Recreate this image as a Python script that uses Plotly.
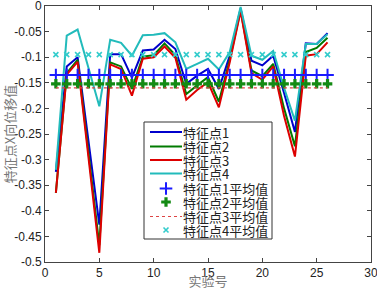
import plotly.graph_objects as go

x = list(range(1, 27))
p1 = [-0.324, -0.118, -0.100, -0.26, -0.427, -0.094, -0.094, -0.140, -0.087, -0.085, -0.066, -0.084, -0.152,
      -0.136, -0.123, -0.162, -0.097, -0.005, -0.107, -0.116, -0.097, -0.17, -0.246, -0.073, -0.074, -0.053]
p2 = [-0.365, -0.131, -0.105, -0.28, -0.467, -0.110, -0.118, -0.162, -0.099, -0.096, -0.073, -0.096, -0.172,
      -0.155, -0.139, -0.187, -0.105, -0.008, -0.126, -0.137, -0.113, -0.20, -0.274, -0.090, -0.082, -0.062]
p3 = [-0.365, -0.134, -0.109, -0.29, -0.482, -0.114, -0.123, -0.175, -0.103, -0.100, -0.079, -0.101, -0.183,
      -0.164, -0.149, -0.198, -0.110, -0.010, -0.131, -0.144, -0.118, -0.215, -0.294, -0.097, -0.094, -0.071]
p4 = [-0.320, -0.058, -0.046, -0.12, -0.196, -0.066, -0.072, -0.097, -0.057, -0.056, -0.053, -0.071, -0.123,
      -0.113, -0.103, -0.124, -0.090, -0.002, -0.097, -0.105, -0.088, -0.16, -0.224, -0.074, -0.074, -0.055]
mean1, mean2, mean3, mean4 = -0.135, -0.152, -0.160, -0.095
names = ["特征点1", "特征点2", "特征点3", "特征点4"]
mean_names = ["特征点1平均值", "特征点2平均值", "特征点3平均值", "特征点4平均值"]
xticks = [0, 5, 10, 15, 20, 25, 30]
yticks = [0, -0.05, -0.1, -0.15, -0.2, -0.25, -0.3, -0.35, -0.4, -0.45, -0.5]
ytick_text = ["0", "-0.05", "-0.1", "-0.15", "-0.2", "-0.25", "-0.3", "-0.35", "-0.4", "-0.45", "-0.5"]

CJK = "Noto Sans CJK SC, sans-serif"
cols = ["#0000cc", "#007a00", "#dd0000", "#22bbbb"]
m1 = dict(symbol="cross-thin", size=9, line=dict(color="#1a1aff", width=2))
m2 = dict(symbol="cross", size=8, color="#138a13", line=dict(width=0))
l3 = dict(color="#dd4444", width=1.2, dash="dot")
m4 = dict(symbol="x-thin", size=5, line=dict(color="#33cccc", width=1.6))

fig = go.Figure()
for ys, nm, c in zip([p1, p2, p3, p4], names, cols):
    fig.add_trace(go.Scatter(x=x, y=ys, mode="lines", name=nm, line=dict(color=c, width=2), showlegend=False))
fig.add_trace(go.Scatter(x=x, y=[mean1] * len(x), mode="markers", name=mean_names[0], marker=m1, showlegend=False))
fig.add_trace(go.Scatter(x=x, y=[mean2] * len(x), mode="markers", name=mean_names[1], marker=m2, showlegend=False))
fig.add_trace(go.Scatter(x=x, y=[mean3] * len(x), mode="lines", name=mean_names[2], line=l3, showlegend=False))
fig.add_trace(go.Scatter(x=x, y=[mean4] * len(x), mode="markers", name=mean_names[3], marker=m4, showlegend=False))

# legend on an overlay axis measured in plot pixels (x: 0..326 from left, y: 0..256 from bottom)
bx0, bx1, by0, by1 = 99, 227, 23, 140
fig.add_trace(go.Scatter(x=[bx0, bx1, bx1, bx0, bx0], y=[by0, by0, by1, by1, by0], mode="lines",
                         fill="toself", fillcolor="white", line=dict(color="#333", width=1),
                         xaxis="x2", yaxis="y2", showlegend=False, hoverinfo="skip"))
row_y = [130, 115.5, 102, 88.5, 73.5, 60, 45.5, 32]
labels = names + mean_names
for i, (ry, lab) in enumerate(zip(row_y, labels)):
    if i < 4:
        fig.add_trace(go.Scatter(x=[105, 137], y=[ry, ry], mode="lines", line=dict(color=cols[i], width=2),
                                 xaxis="x2", yaxis="y2", showlegend=False, hoverinfo="skip"))
    elif i == 6:
        fig.add_trace(go.Scatter(x=[105, 137], y=[ry, ry], mode="lines", line=l3,
                                 xaxis="x2", yaxis="y2", showlegend=False, hoverinfo="skip"))
    else:
        mk = {4: m1, 5: m2, 7: m4}[i]
        fig.add_trace(go.Scatter(x=[121], y=[ry], mode="markers", marker=mk,
                                 xaxis="x2", yaxis="y2", showlegend=False, hoverinfo="skip"))
    fig.add_annotation(x=137, y=ry, xref="x2", yref="y2", text=lab, showarrow=False, xanchor="left",
                       yanchor="middle", borderpad=0, font=dict(family=CJK, size=13, color="#222"))

fig.update_layout(
    width=377, height=290,
    margin=dict(l=45, r=6, t=6, b=28),
    paper_bgcolor="white", plot_bgcolor="white",
    font=dict(family=CJK, size=12, color="#222"),
    showlegend=False,
    xaxis=dict(range=[0, 30], tickvals=xticks, ticks="inside", ticklen=4, showgrid=False, zeroline=False,
               showline=True, linecolor="#444", mirror="ticks", tickcolor="#444", ticklabeloverflow="allow",
               automargin=False,
               title=dict(text="实验号", standoff=3, font=dict(size=13, color="#777")),
               tickfont=dict(family="Liberation Sans, sans-serif", size=12, color="#222")),
    yaxis=dict(range=[-0.5, 0], tickvals=yticks, ticktext=ytick_text, ticks="inside", ticklen=4,
               showgrid=False, zeroline=False, ticklabeloverflow="allow", automargin=False,
               showline=True, linecolor="#444", mirror="ticks", tickcolor="#444",
               title=dict(text="特征点X向位移值", standoff=2, font=dict(size=13, color="#777")),
               tickfont=dict(family="Liberation Sans, sans-serif", size=12, color="#222")),
    xaxis2=dict(range=[0, 326], overlaying="x", visible=False, fixedrange=True),
    yaxis2=dict(range=[0, 256], overlaying="y", visible=False, fixedrange=True),
)
fig.write_html("out.html", config={"displayModeBar": False},
               post_script="document.body.style.margin='0';")
